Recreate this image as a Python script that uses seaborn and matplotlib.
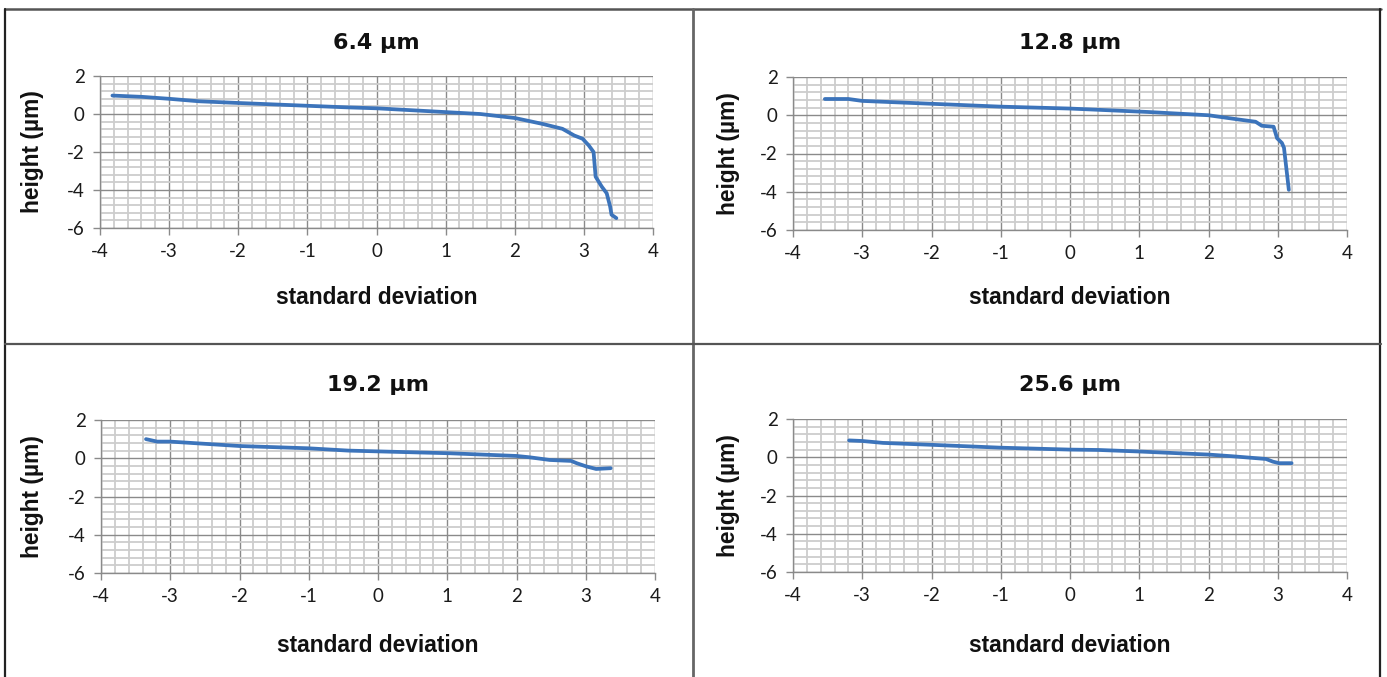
import numpy as np
import pandas as pd
import matplotlib
matplotlib.use("Agg")
import matplotlib.pyplot as plt
from matplotlib.lines import Line2D
from matplotlib.ticker import MultipleLocator
import seaborn as sns

# ---- data ----
titles = ["6.4 µm", "12.8 µm", "19.2 µm", "25.6 µm"]

x1 = [-3.82, -3.38, -3.0, -2.57, -2.0, -1.05, -0.43, 0.0, 0.5, 1.05, 1.5, 2.0, 2.4, 2.69,
      2.86, 2.98, 3.07, 3.14, 3.17, 3.26, 3.33, 3.38, 3.40, 3.47]
y1 = [0.97, 0.90, 0.80, 0.67, 0.58, 0.44, 0.35, 0.30, 0.20, 0.09, 0.0, -0.21, -0.52, -0.78,
      -1.13, -1.30, -1.65, -2.0, -3.3, -3.83, -4.17, -4.87, -5.3, -5.48]

x2 = [-3.54, -3.2, -3.0, -2.0, -1.0, 0.0, 1.13, 2.0, 2.43, 2.68, 2.77, 2.94, 2.99, 3.06, 3.09, 3.16]
y2 = [0.85, 0.85, 0.75, 0.60, 0.45, 0.35, 0.17, 0.0, -0.22, -0.34, -0.55, -0.60, -1.2, -1.45, -1.7, -3.9]

x3 = [-3.35, -3.19, -3.0, -2.0, -1.0, -0.43, 1.04, 2.0, 2.19, 2.48, 2.79, 2.87, 3.01, 3.15, 3.36]
y3 = [1.0, 0.87, 0.87, 0.64, 0.52, 0.40, 0.26, 0.12, 0.05, -0.09, -0.14, -0.26, -0.43, -0.56, -0.52]

x4 = [-3.19, -3.0, -2.7, -2.0, -1.0, 0.0, 0.42, 1.0, 2.0, 2.35, 2.83, 2.93, 3.02, 3.2]
y4 = [0.88, 0.85, 0.75, 0.65, 0.50, 0.40, 0.38, 0.30, 0.14, 0.05, -0.09, -0.23, -0.31, -0.31]

xs = [x1, x2, x3, x4]
ys = [y1, y2, y3, y4]

xlabel = "standard deviation"
ylabel = "height (µm)"

# ---- styling ----
sns.set_style("white")
plt.rcParams['font.family'] = ['DejaVu Sans']
plt.rcParams['axes.unicode_minus'] = False

W, H = 1387, 677
fig = plt.figure(figsize=(W / 100, H / 100), dpi=100)
fig.patch.set_facecolor("white")

# axes boxes in pixel coords: (left, top, right, bottom)
boxes = [(100, 76, 653, 228), (793, 77, 1347, 230), (101, 420, 655, 573), (793, 419, 1347, 572)]
title_y = [43, 43, 385, 385]
xlab_y = [297, 297, 645, 645]
ylab_x = [33, 728, 33, 728]

line_color = "#3c74bb"
major_c = "#8a8a8a"
minor_c = "#cdcdcd"

for i in range(4):
    l, t, r, b = boxes[i]
    ax = fig.add_axes([l / W, 1 - b / H, (r - l) / W, (b - t) / H])
    df = pd.DataFrame({"x": xs[i], "y": ys[i]})
    sns.lineplot(data=df, x="x", y="y", ax=ax, color=line_color, linewidth=2.7,
                 sort=False, estimator=None, zorder=5)
    ax.set_xlim(-4, 4)
    ax.set_ylim(-6, 2)
    ax.xaxis.set_major_locator(MultipleLocator(1))
    ax.xaxis.set_minor_locator(MultipleLocator(0.2))
    ax.yaxis.set_major_locator(MultipleLocator(2))
    ax.yaxis.set_minor_locator(MultipleLocator(0.4))
    ax.grid(which="minor", color=minor_c, linewidth=1.3, zorder=0)
    ax.grid(which="major", color=major_c, linewidth=1.0, zorder=1)
    ax.set_axisbelow(True)
    for s in ["top", "right"]:
        ax.spines[s].set_visible(False)
    for s in ["left", "bottom"]:
        ax.spines[s].set_color(major_c)
        ax.spines[s].set_linewidth(1.0)
    ax.tick_params(which="major", direction="out", length=5, width=1.0, color=major_c,
                   labelsize=13.5, labelcolor="#1a1a1a", pad=6, bottom=True, left=True)
    ax.tick_params(which="minor", length=0)
    for lab in ax.get_xticklabels() + ax.get_yticklabels():
        lab.set_fontfamily("Lato")
    ax.set_xlabel("")
    ax.set_ylabel("")
    cx = (l + r) / 2
    cy = (t + b) / 2
    fig.text(cx / W, 1 - title_y[i] / H, titles[i], ha="center", va="center",
             fontsize=16, fontweight="bold", family="DejaVu Sans", color="#111111")
    fig.text(cx / W, 1 - xlab_y[i] / H, xlabel, ha="center", va="center",
             fontsize=16.4, fontweight="bold", family="Liberation Sans", color="#111111")
    fig.text(ylab_x[i] / W, 1 - cy / H, ylabel, ha="center", va="center", rotation=90,
             fontsize=16.4, fontweight="bold", family="Liberation Sans", color="#111111")

# table borders
def hline(y, x0, x1, c="#555555", lw=1.8):
    fig.add_artist(Line2D([x0 / W, x1 / W], [1 - y / H, 1 - y / H], color=c, linewidth=lw,
                          transform=fig.transFigure))

def vline(x, y0, y1, c="#222222", lw=1.6):
    fig.add_artist(Line2D([x / W, x / W], [1 - y0 / H, 1 - y1 / H], color=c, linewidth=lw,
                          transform=fig.transFigure))

hline(9, 5, 1381)
vline(5, 9, H)
vline(1380, 9, H)
vline(693, 9, H, c="#666666", lw=2.0)
hline(344, 5, 1381, c="#555555", lw=1.6)

fig.savefig("out.png", dpi=100)
